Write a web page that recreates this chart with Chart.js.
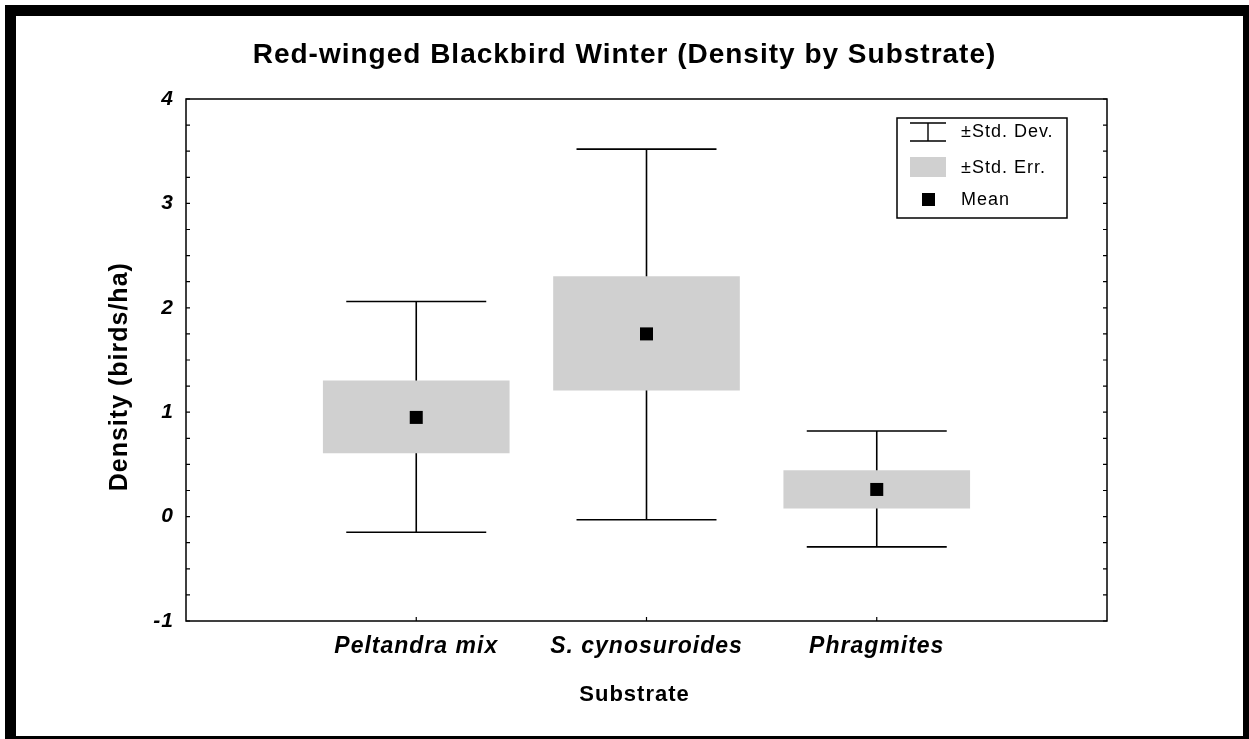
<!DOCTYPE html>
<html lang="en">
<head>
<meta charset="UTF-8">
<title>Red-winged Blackbird Winter (Density by Substrate)</title>
<script src="https://cdn.jsdelivr.net/npm/chart.js@4.4.0/dist/chart.umd.min.js"></script>
<style>
  html, body { margin: 0; padding: 0; background: #fff; overflow: hidden; }
  #wrap { position: relative; width: 1249px; height: 739px; }
  #frame { position: absolute; left: 5px; top: 5px; width: 1227px; height: 720px; border: 11px solid #000; pointer-events: none; }
</style>
</head>
<body>
<div id="wrap">
  <canvas id="chart" width="1249" height="739"></canvas>
  <div id="frame"></div>
</div>
<script>
// values
const categories = ['Peltandra mix', 'S. cynosuroides', 'Phragmites'];
const means  = [0.95, 1.75, 0.26];
const seLow  = [0.61, 1.21, 0.08];
const seHigh = [1.30, 2.30, 0.44];
const sdLow  = [-0.15, -0.03, -0.29];
const sdHigh = [2.06, 3.52, 0.82];
const yTicks = [-1, 0, 1, 2, 3, 4];

const FONT = '"Liberation Sans", Arial, Helvetica, sans-serif';

const decor = {
  id: 'decor',
  beforeUpdate(chart) { chart.ctx.letterSpacing = '1px'; },
  beforeDraw(chart) { chart.ctx.letterSpacing = '1px'; },
  beforeDatasetsDraw(chart) {
    // std. dev. whiskers first, the std. err. box covers the stem
    const { ctx, scales: { x, y } } = chart;
    ctx.save();
    ctx.strokeStyle = '#000';
    ctx.lineWidth = 1.6;
    categories.forEach((c, i) => {
      const cx = x.getPixelForValue(i + 1);
      const x0 = x.getPixelForValue(i + 1 - 0.304), x1 = x.getPixelForValue(i + 1 + 0.304);
      const yt = y.getPixelForValue(sdHigh[i]), yb = y.getPixelForValue(sdLow[i]);
      ctx.beginPath();
      ctx.moveTo(cx, yt); ctx.lineTo(cx, yb);
      ctx.moveTo(x0, yt); ctx.lineTo(x1, yt);
      ctx.moveTo(x0, yb); ctx.lineTo(x1, yb);
      ctx.stroke();
    });
    ctx.restore();
  },
  afterDraw(chart) {
    const { ctx, chartArea: a, scales: { x, y } } = chart;
    ctx.save();
    ctx.letterSpacing = '1px';
    ctx.strokeStyle = '#000';
    ctx.fillStyle = '#000';

    // plot frame
    ctx.lineWidth = 1.5;
    ctx.strokeRect(a.left, a.top, a.right - a.left, a.bottom - a.top);

    // inward ticks, every 0.25 on both sides
    ctx.lineWidth = 1.2;
    ctx.beginPath();
    for (let v = -1; v <= 4.001; v += 0.25) {
      const py = y.getPixelForValue(v);
      ctx.moveTo(a.left, py); ctx.lineTo(a.left + 4, py);
      ctx.moveTo(a.right, py); ctx.lineTo(a.right - 4, py);
    }
    categories.forEach((c, i) => {
      const px = x.getPixelForValue(i + 1);
      ctx.moveTo(px, a.bottom); ctx.lineTo(px, a.bottom - 4);
    });
    ctx.stroke();

    // axis titles
    ctx.textAlign = 'center';
    ctx.textBaseline = 'alphabetic';
    ctx.font = `bold 22px ${FONT}`;
    ctx.fillText('Substrate', (a.left + a.right) / 2 - 12, a.bottom + 80);

    ctx.save();
    ctx.translate(a.left - 59, y.getPixelForValue(1.34));
    ctx.rotate(-Math.PI / 2);
    ctx.font = `bold 25px ${FONT}`;
    ctx.fillText('Density (birds/ha)', 0, 0);
    ctx.restore();

    // legend
    const lx = a.right - 210, ly = a.top + 19;
    ctx.lineWidth = 1.5;
    ctx.strokeRect(lx, ly, 170, 100);
    ctx.lineWidth = 1.4;
    ctx.beginPath();
    ctx.moveTo(lx + 13, ly + 5);  ctx.lineTo(lx + 49, ly + 5);
    ctx.moveTo(lx + 31, ly + 5);  ctx.lineTo(lx + 31, ly + 23);
    ctx.moveTo(lx + 13, ly + 23); ctx.lineTo(lx + 49, ly + 23);
    ctx.stroke();
    ctx.fillStyle = '#d0d0d0';
    ctx.fillRect(lx + 13, ly + 39, 36, 20);
    ctx.fillStyle = '#000';
    ctx.fillRect(lx + 25, ly + 75, 13, 13);

    ctx.textAlign = 'left';
    ctx.font = `18px ${FONT}`;
    ctx.fillText('\u00b1Std. Dev.', lx + 64, ly + 19);
    ctx.fillText('\u00b1Std. Err.', lx + 64, ly + 55);
    ctx.fillText('Mean', lx + 64, ly + 87);
    ctx.restore();
  }
};

new Chart(document.getElementById('chart'), {
  type: 'bar',
  data: {
    datasets: [
      {
        type: 'scatter',
        label: 'Mean',
        order: 1,
        data: categories.map((c, i) => ({ x: i + 1, y: means[i] })),
        pointStyle: 'rect',
        pointRadius: 9.2,
        backgroundColor: '#000',
        borderWidth: 0
      },
      {
        type: 'bar',
        label: '\u00b1Std. Err.',
        order: 2,
        data: categories.map((c, i) => ({ x: i + 1, y: [seLow[i], seHigh[i]] })),
        backgroundColor: '#d0d0d0',
        borderWidth: 0,
        barThickness: 186
      }
    ]
  },
  options: {
    responsive: false,
    animation: false,
    layout: { padding: 0 },
    plugins: {
      legend: { display: false },
      tooltip: { enabled: false },
      title: {
        display: true,
        text: 'Red-winged Blackbird Winter (Density by Substrate)',
        color: '#000',
        font: { family: FONT, size: 28, weight: 'bold', lineHeight: 1.2 },
        padding: { top: 38, bottom: 27.4 }
      }
    },
    scales: {
      x: {
        type: 'linear',
        offset: false,
        min: 0,
        max: 4,
        grid: { display: false, drawTicks: false },
        border: { display: false },
        afterBuildTicks: s => { s.ticks = categories.map((c, i) => ({ value: i + 1 })); },
        ticks: {
          color: '#000',
          padding: 12,
          maxRotation: 0,
          autoSkip: false,
          font: { family: FONT, size: 23, weight: 'bold', style: 'italic' },
          callback: v => categories[v - 1] || ''
        },
        afterFit: s => { s.height = 118; }
      },
      y: {
        type: 'linear',
        min: -1,
        max: 4,
        grid: { display: false, drawTicks: false },
        border: { display: false },
        afterBuildTicks: s => { s.ticks = yTicks.map(v => ({ value: v })); },
        ticks: {
          color: '#000',
          padding: 12,
          font: { family: FONT, size: 21, weight: 'bold', style: 'italic' }
        },
        afterFit: s => { s.width = 186; }
      },
      // empty right margin, keeps the title centred on the whole canvas
      yRight: {
        type: 'linear',
        position: 'right',
        min: -1,
        max: 4,
        grid: { display: false, drawTicks: false },
        border: { display: false },
        ticks: { display: false },
        afterFit: s => { s.width = 142; }
      }
    }
  },
  plugins: [decor]
});
</script>
</body>
</html>
